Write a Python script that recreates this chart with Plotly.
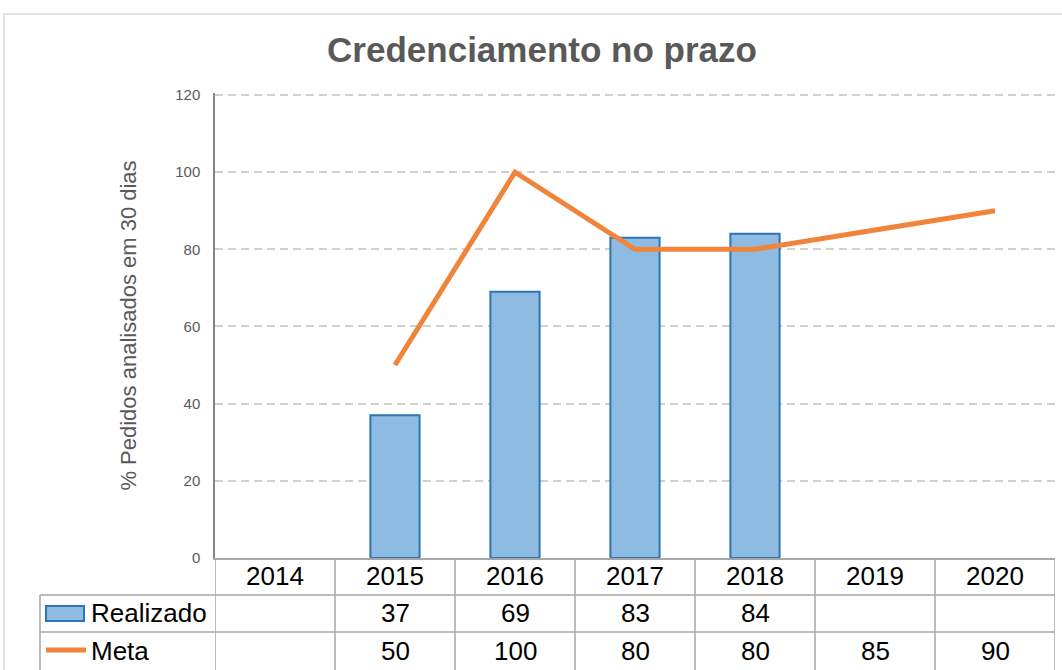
import plotly.graph_objects as go

# ---- data ----
years = ["2014", "2015", "2016", "2017", "2018", "2019", "2020"]
realizado = [None, 37, 69, 83, 84, None, None]
meta = [None, 50, 100, 80, 80, 85, 90]
y_ticks = [0, 20, 40, 60, 80, 100, 120]
y_max = 120.5

# ---- layout constants (pixels) ----
W, H = 1062, 670
L, R, T, B = 215, 1055, 93, 558
PW, PH = R - L, B - T

def px(x):
    return (x - L) / PW

def py(y):
    return (B - y) / PH

FONT = "Liberation Sans, Arial, sans-serif"
GRAY_TXT = "#595959"
GRID = "#a6a6a6"
BLUE_FILL = "#8DBBE2"
BLUE_LINE = "#2E75B6"
ORANGE = "#F0843A"

fig = go.Figure()
fig.add_trace(go.Bar(
    x=years, y=realizado, name="Realizado",
    marker=dict(color=BLUE_FILL, line=dict(color=BLUE_LINE, width=2)),
    width=0.41,
))
fig.add_trace(go.Scatter(
    x=years, y=meta, name="Meta", mode="lines",
    line=dict(color=ORANGE, width=5), connectgaps=False,
))

shapes = []
# outer chart frame
shapes.append(dict(type="rect", xref="paper", yref="paper",
                   x0=px(4), x1=px(1100), y0=py(720), y1=py(14),
                   line=dict(color="#d9d9d9", width=1.5), layer="below"))

# data table grid
row1, row2, row3 = 595, 632, 700
for k in range(len(years) + 1):
    shapes.append(dict(type="line", xref="x", yref="paper",
                       x0=k - 0.5, x1=k - 0.5, y0=py(B), y1=py(row3),
                       line=dict(color=GRID, width=1.5)))
for yy in (row1, row2):
    shapes.append(dict(type="line", xref="paper", yref="paper",
                       x0=px(40), x1=1, y0=py(yy), y1=py(yy),
                       line=dict(color=GRID, width=1.5)))
shapes.append(dict(type="line", xref="paper", yref="paper",
                   x0=px(40), x1=px(40), y0=py(row1), y1=py(row3),
                   line=dict(color=GRID, width=1.5)))
# legend keys
shapes.append(dict(type="rect", xref="paper", yref="paper",
                   x0=px(46), x1=px(84), y0=py(621), y1=py(606),
                   fillcolor=BLUE_FILL, line=dict(color=BLUE_LINE, width=2)))
shapes.append(dict(type="line", xref="paper", yref="paper",
                   x0=px(46), x1=px(86), y0=py(650), y1=py(650),
                   line=dict(color=ORANGE, width=5)))

annotations = []
for label, yy in (("Realizado", 613), ("Meta", 651)):
    annotations.append(dict(text=label, xref="paper", yref="paper",
                            x=px(89), y=py(yy), xanchor="left", yanchor="middle",
                            showarrow=False, font=dict(family=FONT, size=26, color="black")))
for series, yy in ((realizado, 613), (meta, 651)):
    for k, v in enumerate(series):
        if v is None:
            continue
        annotations.append(dict(text=str(v), xref="x", yref="paper",
                                x=k, y=py(yy), xanchor="center", yanchor="middle",
                                showarrow=False, font=dict(family=FONT, size=26, color="black")))

fig.update_layout(
    width=W, height=H, autosize=False,
    margin=dict(l=L, r=W - R, t=T, b=H - B),
    paper_bgcolor="white", plot_bgcolor="white",
    showlegend=False,
    title=dict(text="<b>Credenciamento no prazo</b>", x=542 / W, xanchor="center",
               y=1 - 50 / H, yanchor="middle", yref="container",
               font=dict(family=FONT, size=35, color=GRAY_TXT)),
    bargap=0.59,
    shapes=shapes,
    annotations=annotations,
    font=dict(family=FONT),
)
fig.update_xaxes(
    type="category", categoryorder="array", categoryarray=years,
    range=[-0.5, len(years) - 0.5],
    showline=True, linecolor=GRID, linewidth=1.5,
    showgrid=False, ticks="", ticklabelstandoff=-6,
    tickfont=dict(family=FONT, size=26, color="black"),
)
fig.update_yaxes(
    range=[0, y_max], tickvals=y_ticks,
    showline=True, linecolor="#868686", linewidth=1.5,
    showgrid=True, gridcolor="#d0d0d0", gridwidth=1.5, griddash="8px,5px",
    zeroline=False, ticks="", ticklabelstandoff=10,
    tickfont=dict(family=FONT, size=15, color=GRAY_TXT),
    title=dict(text="% Pedidos analisados em 30 dias", standoff=33,
               font=dict(family=FONT, size=22, color=GRAY_TXT)),
)

fig.write_html("out.html", config={"displayModeBar": False},
               post_script="document.body.style.margin='0px';")
